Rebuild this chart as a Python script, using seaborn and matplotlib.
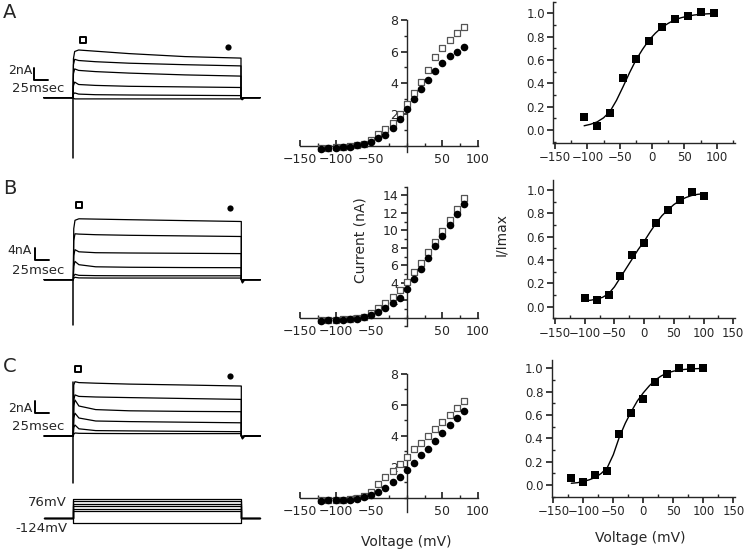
import matplotlib
matplotlib.use("Agg")
import pandas as pd
import matplotlib.pyplot as plt
from matplotlib.ticker import MultipleLocator
import seaborn as sns

# ---------------- data ----------------
# current traces: common time grid (ms, pulse from 0 to 300) and one list per sweep (nA)
trace_t = [-52, 0, 0.8, 3, 10, 40, 100, 200, 300, 300, 302, 306, 334]
tracesA = [
    [0, 0, 6.5, 7.7, 7.95, 7.75, 7.35, 6.85, 6.6, 0, -0.35, 0, 0],
    [0, 0, 5.5, 6.4, 6.2, 6.0, 5.75, 5.5, 5.3, 0, -0.3, 0, 0],
    [0, 0, 4.0, 4.8, 4.55, 4.35, 4.1, 3.8, 3.6, 0, -0.2, 0, 0],
    [0, 0, 2.0, 2.6, 2.2, 2.05, 1.9, 1.8, 1.7, 0, -0.15, 0, 0],
    [0, 0, 0.6, 0.8, 0.6, 0.5, 0.45, 0.4, 0.35, 0, -0.1, 0, 0],
    [0, 0, -0.1, -0.2, -0.2, -0.2, -0.2, -0.2, -0.2, 0, 0, 0, 0],
]
tracesB = [
    [0, 0, 17.0, 19.8, 20.3, 20.2, 20.0, 19.7, 19.4, 0, -1.1, 0, 0],
    [0, 0, 13.0, 15.3, 15.2, 15.0, 14.8, 14.6, 14.4, 0, -0.9, 0, 0],
    [0, 0, 8.0, 10.0, 9.3, 9.0, 8.9, 8.8, 8.7, 0, -0.6, 0, 0],
    [0, 0, 4.5, 6.1, 5.0, 4.3, 4.15, 4.05, 4.0, 0, -0.4, 0, 0],
    [0, 0, 1.2, 1.8, 1.45, 1.35, 1.3, 1.3, 1.3, 0, -0.2, 0, 0],
    [0, 0, 0.5, 0.8, 0.6, 0.55, 0.55, 0.55, 0.55, 0, 0, 0, 0],
]
tracesC = [
    [0, 0, 8.5, 9.05, 8.9, 8.8, 8.65, 8.5, 8.33, 0, -0.5, 0, 0],
    [0, 0, 6.0, 6.85, 6.6, 6.5, 6.4, 6.25, 6.1, 0, -0.4, 0, 0],
    [0, 0, 5.0, 6.0, 5.0, 4.4, 4.2, 4.1, 4.05, 0, -0.3, 0, 0],
    [0, 0, 3.0, 3.8, 3.0, 2.5, 2.4, 2.3, 2.2, 0, -0.2, 0, 0],
    [0, 0, 1.4, 1.83, 1.2, 0.9, 0.85, 0.78, 0.72, 0, -0.1, 0, 0],
    [0, 0, 0.3, 0.5, 0.45, 0.42, 0.4, 0.4, 0.4, 0, 0, 0, 0],
]
# capacitive transient at pulse onset (nA)
spikeA = [-10.0, 0.0]
spikeB = [-15.0, 0.0]
spikeC = [-7.8, 9.0]
# scale bars (ms / nA)
scale_t = [-69, -69, -44]
scaleA = [4.95, 2.95, 2.95]
scaleB = [10.6, 6.6, 6.6]
scaleC = [5.8, 3.8, 3.8]
# open square / filled circle sample-time marks above traces (ms, nA)
markA = [(18, 9.6), (277, 8.4)]
markB = [(11, 24.9), (280, 23.8)]
markC = [(8, 11.1), (280, 10.0)]

# voltage protocol (mV)
prot_t = [-52, 0, 0, 300, 300, 334]
prot_hold = -80
prot_levels = [76, 56, 36, 16, -4, -24, -124]

# I-V relations: open squares = peak, filled circles = end of pulse (nA)
iv_v = [-120, -110, -100, -90, -80, -70, -60, -50, -40, -30, -20,
        -10, 0, 10, 20, 30, 40, 50, 60, 70, 80]
ivA_peak = [-0.15, -0.12, -0.09, -0.05, -0.02, 0.04, 0.12, 0.35, 0.72, 1.04, 1.46,
            2.00, 2.63, 3.33, 4.08, 4.82, 5.63, 6.20, 6.73, 7.20, 7.54]
ivA_late = [-0.19, -0.15, -0.12, -0.08, -0.05, 0.02, 0.08, 0.25, 0.47, 0.70, 1.15,
            1.72, 2.33, 2.97, 3.59, 4.18, 4.78, 5.24, 5.70, 5.95, 6.30]
ivB_peak = [-0.30, -0.25, -0.22, -0.18, -0.12, -0.05, 0.12, 0.50, 1.10, 1.70, 2.40,
            3.20, 4.10, 5.20, 6.27, 7.50, 8.65, 9.90, 11.2, 12.4, 13.65]
ivB_late = [-0.35, -0.30, -0.28, -0.22, -0.18, -0.12, 0.05, 0.30, 0.70, 1.15, 1.65,
            2.27, 3.27, 4.46, 5.60, 6.85, 8.20, 9.40, 10.6, 11.9, 13.0]
ivC_peak = [-0.18, -0.16, -0.14, -0.12, -0.10, -0.05, 0.08, 0.39, 0.88, 1.31, 1.72,
            2.18, 2.65, 3.13, 3.56, 4.00, 4.44, 4.87, 5.34, 5.82, 6.25]
ivC_late = [-0.20, -0.18, -0.16, -0.14, -0.12, -0.08, 0.04, 0.17, 0.39, 0.65, 0.99,
            1.31, 1.79, 2.22, 2.74, 3.17, 3.69, 4.20, 4.70, 5.17, 5.63]

# normalised activation (I/Imax) and the fitted curve
actA_v = [-105, -85, -65, -45, -25, -5, 15, 35, 55, 75, 95]
actA = [0.11, 0.035, 0.15, 0.45, 0.61, 0.76, 0.88, 0.95, 0.98, 1.01, 1.0]
fitA_v = [-105, -95, -85, -75, -65, -55, -45, -35, -25, -15, -5,
          5, 15, 25, 35, 45, 55, 65, 75, 85, 95]
fitA = [0.037, 0.05, 0.07, 0.105, 0.16, 0.255, 0.37, 0.49, 0.60, 0.69, 0.77,
        0.83, 0.88, 0.915, 0.945, 0.963, 0.976, 0.986, 0.992, 0.996, 0.998]
actB_v = [-100, -80, -60, -40, -20, 0, 20, 40, 60, 80, 100]
actB = [0.071, 0.057, 0.10, 0.266, 0.44, 0.546, 0.717, 0.83, 0.914, 0.986, 0.951]
fitB_v = [-100, -90, -80, -70, -60, -50, -40, -30, -20, -10, 0,
          10, 20, 30, 40, 50, 60, 70, 80, 90, 100]
fitB = [0.05, 0.055, 0.065, 0.08, 0.11, 0.17, 0.25, 0.33, 0.41, 0.49, 0.56,
        0.64, 0.715, 0.78, 0.83, 0.875, 0.91, 0.935, 0.953, 0.963, 0.968]
actC_v = [-120, -100, -80, -60, -40, -20, 0, 20, 40, 60, 80, 100]
actC = [0.057, 0.029, 0.083, 0.12, 0.434, 0.62, 0.74, 0.88, 0.95, 1.0, 1.0, 1.0]
fitC_v = [-120, -110, -100, -90, -80, -70, -60, -50, -40, -30, -20, -10,
          0, 10, 20, 30, 40, 50, 60, 70, 80, 90, 100]
fitC = [0.015, 0.02, 0.03, 0.045, 0.065, 0.10, 0.15, 0.26, 0.41, 0.53, 0.63, 0.72,
        0.79, 0.85, 0.90, 0.935, 0.96, 0.975, 0.985, 0.991, 0.995, 0.997, 0.999]

# ---------------- layout helpers (pixel boxes) ----------------
W, H = 750, 549
MS_PX = 0.56  # 25 ms = 14 px


def px_box(l, t, r, b):
    return [l / W, 1 - b / H, (r - l) / W, (b - t) / H]


def ftext(px, py, s, **kw):
    fig.text(px / W, 1 - py / H, s, **kw)


sns.set_theme(style="ticks")
plt.rcParams["font.family"] = ["DejaVu Sans"]
plt.rcParams["axes.linewidth"] = 1.0

fig = plt.figure(figsize=(7.5, 5.49), dpi=100)


def trace_panel(box, x0, base, px_per_nA, sweeps, spike, scale_i, marks):
    l, t, r, b = box
    ax = fig.add_axes(px_box(l, t, r, b))
    rows = [{"t": tt, "I": ii, "sweep": k}
            for k, sw in enumerate(sweeps) for tt, ii in zip(trace_t, sw)]
    df = pd.DataFrame(rows)
    sns.lineplot(data=df, x="t", y="I", units="sweep", estimator=None, sort=False,
                 color="black", lw=0.9, ax=ax)
    sns.lineplot(x=[0, 0], y=spike, sort=False, estimator=None, color="black", lw=1.1, ax=ax)
    sns.lineplot(x=scale_t, y=scale_i, sort=False, estimator=None, color="black", lw=1.4, ax=ax)
    sns.scatterplot(x=[marks[0][0]], y=[marks[0][1]], marker="s", s=20, color="white",
                    edgecolor="black", linewidth=1.4, ax=ax)
    sns.scatterplot(x=[marks[1][0]], y=[marks[1][1]], marker="o", s=20, color="black",
                    linewidth=0, ax=ax)
    ax.set_xlim((l - x0) / MS_PX, (r - x0) / MS_PX)
    ax.set_ylim((base - b) / px_per_nA, (base - t) / px_per_nA)
    ax.axis("off")
    return ax


trace_panel((0, 30, 268, 168), 73.0, 97.7, 6.0, tracesA, spikeA, scaleA, markA)
trace_panel((0, 195, 268, 335), 73.3, 279.7, 3.0, tracesB, spikeB, scaleB, markB)
trace_panel((0, 360, 268, 488), 73.3, 436.0, 6.0, tracesC, spikeC, scaleC, markC)

# voltage protocol
l, t, r, b = 0, 490, 268, 535
axp = fig.add_axes(px_box(l, t, r, b))
prot_rows = [{"t": tt, "V": vv, "sweep": k}
             for k, lev in enumerate(prot_levels)
             for tt, vv in zip(prot_t, [prot_hold, prot_hold, lev, lev, prot_hold, prot_hold])]
sns.lineplot(data=pd.DataFrame(prot_rows), x="t", y="V", units="sweep", estimator=None,
             sort=False, color="black", lw=0.9, ax=axp)
mv_px = 24.3 / 200.0
axp.set_xlim((l - 73.3) / MS_PX, (r - 73.3) / MS_PX)
axp.set_ylim(-124 - (b - 523.3) / mv_px, -124 + (523.3 - t) / mv_px)
axp.axis("off")

# panel letters and scale-bar labels
for py, s in [(13, "A"), (188, "B"), (366, "C")]:
    ftext(10, py, s, fontsize=14, ha="center", va="center")
for py1, py2, s in [(71, 88, "2nA"), (251, 270, "4nA"), (408, 427, "2nA")]:
    ftext(32, py1, s, fontsize=9, ha="right", va="center")
    ftext(38, py2, "25msec", fontsize=9.5, ha="center", va="center")
ftext(67, 502, "76mV", fontsize=9.5, ha="right", va="center")
ftext(67, 528, "-124mV", fontsize=9.5, ha="right", va="center")


# ---------------- I-V panels ----------------
def iv_panel(box, ylim, peak, late, yticks):
    ax = fig.add_axes(px_box(*box))
    ax.patch.set_alpha(0)
    sns.scatterplot(x=iv_v, y=peak, marker="s", s=24, color="white", edgecolor="#555555",
                    linewidth=0.9, zorder=4, clip_on=False, ax=ax)
    sns.scatterplot(x=iv_v, y=late, marker="o", s=30, color="black", linewidth=0,
                    zorder=5, clip_on=False, ax=ax)
    ax.set_xlim(-150, 100)
    ax.set_ylim(*ylim)
    for side in ["top", "right"]:
        ax.spines[side].set_visible(False)
    ax.spines["left"].set_position(("data", 0))
    ax.spines["bottom"].set_position(("data", 0))
    ax.set_xticks([-150, -100, -50, 50, 100])
    ax.xaxis.set_minor_locator(MultipleLocator(25))
    ax.set_yticks(yticks)
    ax.set_yticklabels([str(v) for v in yticks])
    ax.yaxis.set_minor_locator(MultipleLocator(1))
    ax.tick_params(axis="x", which="major", direction="in", length=4, labelsize=9, pad=5)
    ax.tick_params(axis="x", which="minor", direction="in", length=2)
    ax.tick_params(axis="y", which="major", direction="out", length=4, labelsize=9, pad=2)
    ax.tick_params(axis="y", which="minor", direction="out", length=2)
    ax.set_xlabel("")
    ax.set_ylabel("")
    return ax


iv_panel((300, 20.1, 478, 151.7), (-0.38, 8), ivA_peak, ivA_late, [2, 4, 6, 8])
iv_panel((300, 186.7, 478, 326.4), (-1.0, 15), ivB_peak, ivB_late, [2, 4, 6, 8, 10, 12, 14])
iv_panel((300, 374, 478, 511.6), (-0.9, 8), ivC_peak, ivC_late, [2, 4, 6, 8])
ftext(360, 240, "Current (nA)", fontsize=10, rotation=90, ha="center", va="center")
ftext(406.7, 541.7, "Voltage (mV)", fontsize=10, ha="center", va="center")


# ---------------- activation panels ----------------
def act_panel(box, xlim, ylim, v, frac, fv, fit, xticks):
    ax = fig.add_axes(px_box(*box))
    ax.patch.set_alpha(0)
    sns.lineplot(x=fv, y=fit, sort=False, estimator=None, color="black", lw=1.0, ax=ax)
    sns.scatterplot(x=v, y=frac, marker="s", s=26, color="black", linewidth=0,
                    zorder=4, clip_on=False, ax=ax)
    ax.set_xlim(*xlim)
    ax.set_ylim(*ylim)
    sns.despine(ax=ax)
    ax.set_xticks(xticks)
    ax.xaxis.set_minor_locator(MultipleLocator(25))
    ax.set_yticks([0.0, 0.2, 0.4, 0.6, 0.8, 1.0])
    ax.set_yticklabels(["0.0", "0.2", "0.4", "0.6", "0.8", "1.0"])
    ax.yaxis.set_minor_locator(MultipleLocator(0.1))
    ax.tick_params(which="major", direction="out", length=4, labelsize=8.5, pad=2)
    ax.tick_params(which="minor", direction="in", length=2.5)
    ax.set_xlabel("")
    ax.set_ylabel("")
    return ax


act_panel((553.3, 1.7, 735, 142.7), (-152.6, 128), (-0.108, 1.1), actA_v, actA,
          fitA_v, fitA, [-150, -100, -50, 0, 50, 100])
act_panel((553.3, 180, 735, 318.3), (-153, 153), (-0.1, 1.086), actB_v, actB,
          fitB_v, fitB, [-150, -100, -50, 0, 50, 100, 150])
act_panel((551.7, 360, 735, 496.7), (-152.7, 152.8), (-0.1, 1.071), actC_v, actC,
          fitC_v, fitC, [-150, -100, -50, 0, 50, 100, 150])
ftext(501, 235, "I/Imax", fontsize=10, rotation=90, ha="center", va="center")
ftext(640, 538.3, "Voltage (mV)", fontsize=10, ha="center", va="center")

fig.savefig("out.png", dpi=100)
